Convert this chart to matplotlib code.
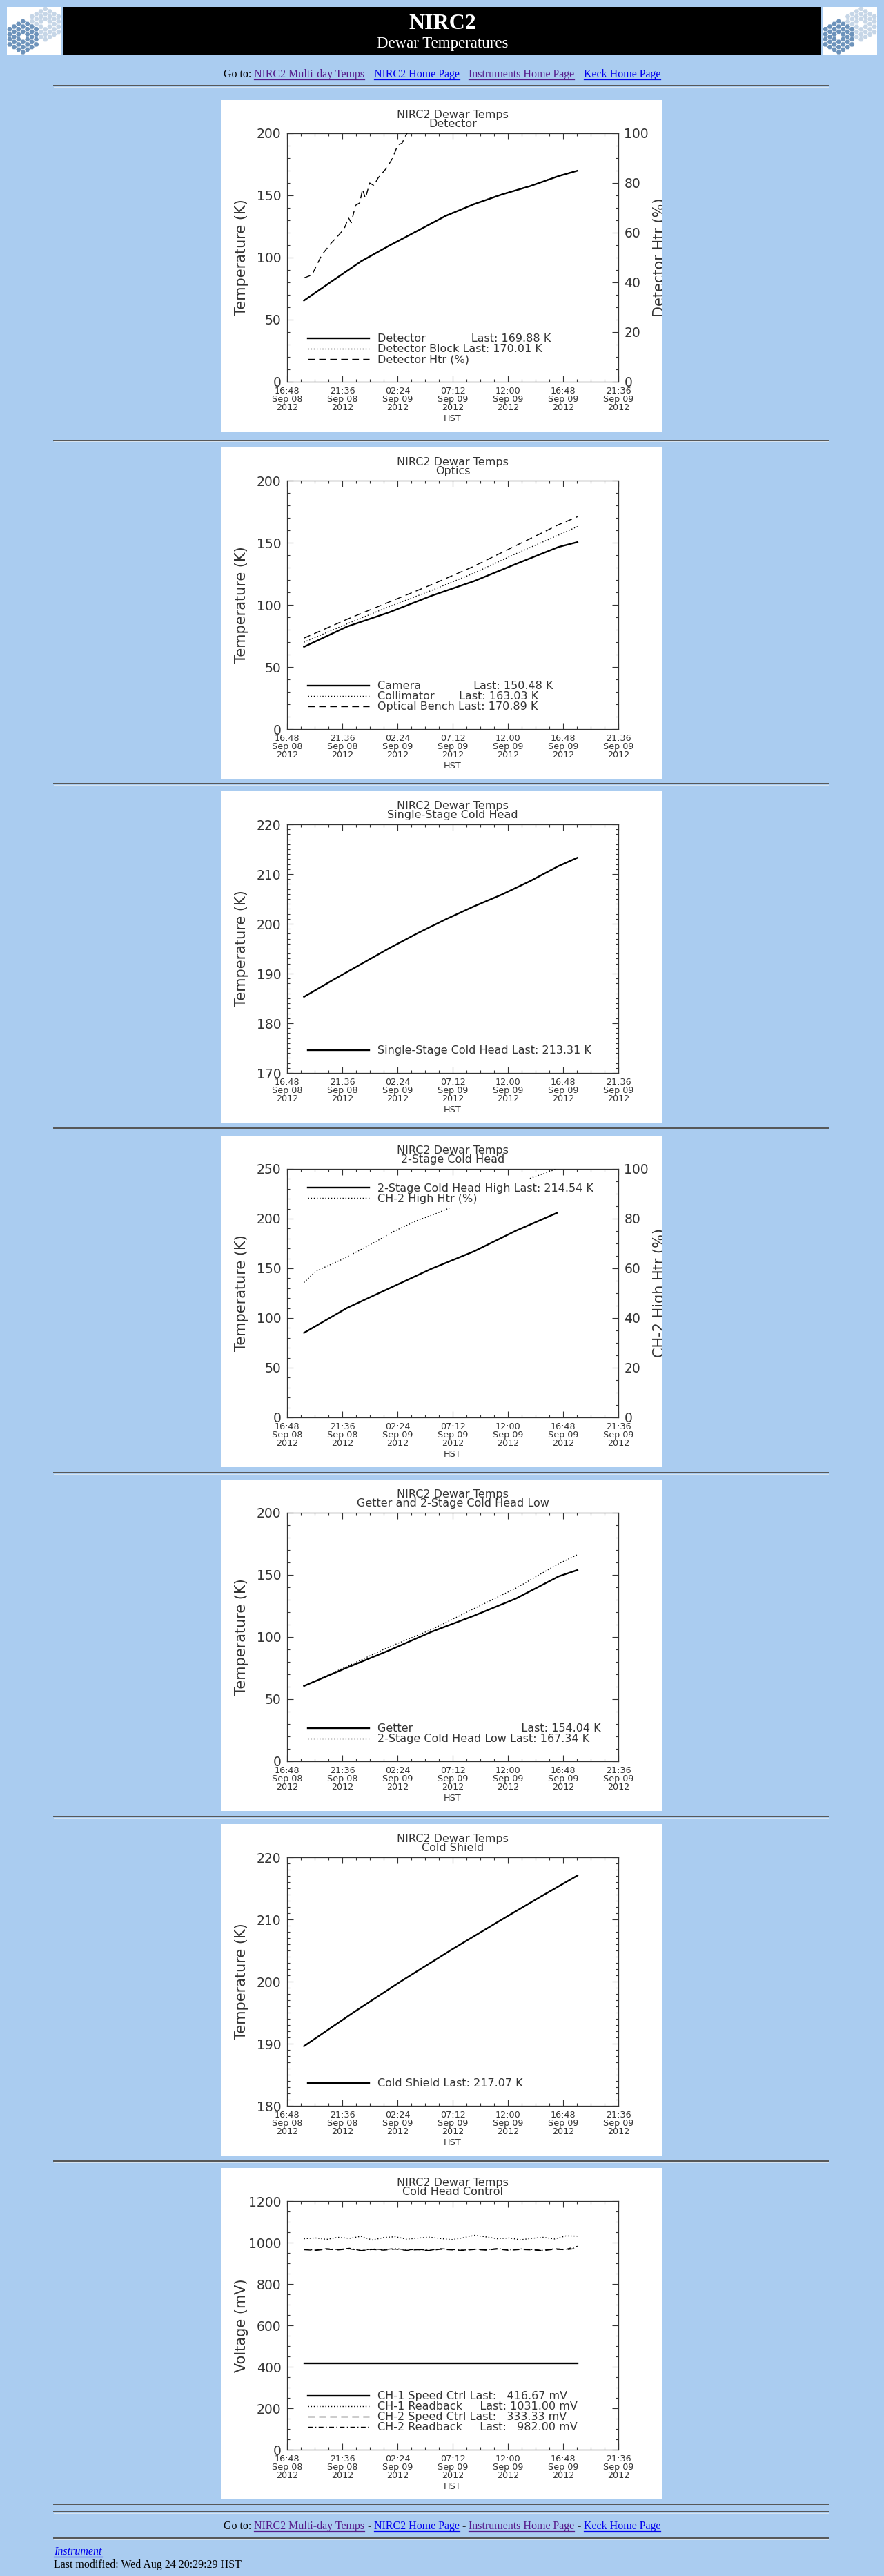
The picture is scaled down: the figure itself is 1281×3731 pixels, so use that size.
import numpy as np
import matplotlib
matplotlib.use('Agg')
import matplotlib.pyplot as plt
from matplotlib.patches import Rectangle, RegularPolygon
from matplotlib.lines import Line2D
from matplotlib.ticker import MultipleLocator, FixedLocator
from matplotlib.transforms import Bbox, TransformedBbox

W, H = 1281, 3731
BG = '#aaccf0'
INK = '#333333'
VISITED = '#551a8b'
LINK = '#0000ee'
FIG = '\u2007'  # figure space, used to pad legend names like IDL does

# x axis = hours after 16:48 HST, Sep 08 2012
x_tick_hours = [0, 4.8, 9.6, 14.4, 19.2, 24.0, 28.8]
x_tick_labels = ['16:48\nSep 08\n2012', '21:36\nSep 08\n2012', '02:24\nSep 09\n2012',
                 '07:12\nSep 09\n2012', '12:00\nSep 09\n2012', '16:48\nSep 09\n2012',
                 '21:36\nSep 09\n2012']

# ---- panel 1 : Detector
det_t = [1.47, 3.99, 6.44, 8.89, 11.34, 13.79, 16.24, 18.69, 21.14, 23.59, 25.25]
detector = [65.4, 81.5, 97.0, 109.6, 121.5, 133.5, 142.9, 150.8, 157.5, 165.5, 169.9]
detector_block = [65.6, 81.7, 97.2, 109.8, 121.7, 133.7, 143.1, 151.0, 157.7, 165.7, 170.0]
htr_t = [1.47, 2.16, 3.01, 3.87, 4.48, 4.97, 5.34, 5.58, 5.95, 6.32, 6.56, 6.81,
         7.18, 7.54, 7.91, 8.65, 9.14, 9.63, 9.99, 10.36, 10.73]
detector_htr = [41.8, 43.0, 51.0, 56.0, 59.0, 61.6, 66.0, 64.0, 71.0, 72.0, 77.5, 73.8,
                80.0, 79.0, 82.0, 86.0, 89.7, 95.3, 96.0, 99.5, 102.0]
det_last = [169.88, 170.01]

# ---- panel 2 : Optics
opt_t = [1.47, 5.22, 8.89, 12.56, 16.24, 19.91, 23.59, 25.25]
camera = [66.2, 82.5, 94.0, 107.3, 119.0, 132.9, 146.5, 150.5]
collimator = [69.9, 84.7, 98.6, 111.6, 125.5, 141.2, 156.1, 163.0]
optical_bench = [73.2, 88.4, 102.3, 116.2, 131.0, 147.7, 164.4, 170.9]
opt_last = [150.48, 163.03, 170.89]

# ---- panel 3 : Single-Stage Cold Head
ss_t = [1.47, 3.99, 6.44, 8.89, 11.34, 13.79, 16.24, 18.69, 21.14, 23.59, 25.25]
single_stage = [185.3, 188.7, 191.9, 195.1, 198.1, 200.9, 203.5, 205.9, 208.6, 211.6, 213.3]
ss_last = 213.31

# ---- panel 4 : 2-Stage Cold Head
ch2_t = [1.47, 5.22, 8.89, 12.56, 16.24, 19.91, 23.46]
ch2_high = [85.1, 110.2, 129.9, 149.6, 167.0, 187.9, 205.7]
ch2_htr_t = [1.47, 2.52, 4.97, 7.42, 9.38, 11.34, 13.05, 16.24, 18.69, 20.52, 21.87, 23.46]
ch2_htr = [54.3, 58.9, 64.0, 70.0, 75.1, 79.3, 82.2, 88.5, 92.6, 95.2, 97.4, 100.0]
ch2_last = 214.54

# ---- panel 5 : Getter and 2-Stage Cold Head Low
get_t = [1.47, 5.22, 8.89, 12.56, 16.24, 19.91, 23.59, 25.25]
getter = [60.6, 75.4, 89.3, 104.2, 117.1, 131.0, 148.7, 153.9]
ch2_low = [60.6, 76.4, 92.1, 106.0, 122.8, 139.4, 158.9, 166.3]
get_last = [154.04, 167.34]

# ---- panel 6 : Cold Shield
cs_t = [1.47, 1.79, 5.83, 9.87, 14.28, 18.69, 21.99, 25.25]
cold_shield = [189.6, 190.0, 195.1, 200.0, 205.1, 210.0, 213.6, 217.07]
cs_last = 217.07

# ---- panel 7 : Cold Head Control
ctl_t = [1.47, 2.46, 3.45, 4.44, 5.43, 6.42, 7.41, 8.40, 9.39, 10.38, 11.37, 12.36, 13.35,
         14.34, 15.33, 16.32, 17.31, 18.30, 19.29, 20.28, 21.27, 22.26, 23.25, 24.24, 25.25]
ch1_speed = [416.67] * 25
ch1_readback = [1018, 1022, 1015, 1025, 1020, 1030, 1012, 1024, 1028, 1016, 1021, 1026, 1019,
                1014, 1023, 1035, 1027, 1018, 1022, 1013, 1020, 1025, 1017, 1032, 1031]
ch2_speed = [965, 962, 967, 964, 969, 961, 966, 963, 968, 962, 965, 961, 967, 964, 962,
             966, 963, 968, 962, 966, 964, 961, 967, 965, 972]
ch2_readback = [968, 963, 970, 966, 972, 961, 969, 965, 971, 964, 967, 962, 970, 966, 963,
                968, 965, 971, 964, 969, 966, 962, 970, 967, 982]
ctl_last = [416.67, 1031.00, 333.33, 982.00]

panel_tops = [145, 648, 1146, 1645, 2143, 2642, 3140]
hr_rows = [124, 638, 1135, 1634, 2133, 2631, 3130, 3627, 3638, 3676]

SOLID = dict(color='black', lw=1.7, ls='-')
DOT = dict(color='black', lw=1.0, ls=(0, (1, 2)))
DASH = dict(color='black', lw=1.0, ls=(0, (7, 4.5)))
DASHDOT = dict(color='black', lw=1.0, ls=(0, (5, 2.5, 1, 2.5)))

fig = plt.figure(figsize=(W / 100, H / 100), dpi=100, facecolor=BG)


def frac(x, y, w, h):
    # page pixels, origin top-left -> figure fraction rect
    return [x / W, 1 - (y + h) / H, w / W, h / H]


def pad(name, n):
    return name + FIG * (n - len(name))


def panel(top, subtitle, ylim, major, minor, ylabel):
    fig.add_artist(Rectangle((320 / W, 1 - (top + 480) / H), 640 / W, 480 / H,
                             transform=fig.transFigure, fc='white', ec='none', zorder=-1))
    ax = fig.add_axes(frac(416, top + 48, 480, 360))
    ax.set_xlim(0, 28.8)
    ax.set_ylim(*ylim)
    ax.xaxis.set_major_locator(FixedLocator(x_tick_hours))
    ax.set_xticklabels(x_tick_labels, linespacing=0.92)
    ax.xaxis.set_minor_locator(MultipleLocator(1.2))
    ax.yaxis.set_major_locator(MultipleLocator(major))
    ax.yaxis.set_minor_locator(MultipleLocator(minor))
    ax.tick_params(which='both', direction='in', top=True, right=True, color=INK, width=0.8)
    ax.tick_params(which='major', length=6.5)
    ax.tick_params(which='minor', length=3.2)
    ax.tick_params(axis='x', labelsize=9.2, labelcolor=INK, pad=5)
    ax.tick_params(axis='y', labelsize=13.5, labelcolor=INK, pad=6)
    for sp in ax.spines.values():
        sp.set_color(INK)
        sp.set_linewidth(0.9)
    ax.set_title('NIRC2 Dewar Temps\n' + subtitle, fontsize=11.5, color=INK,
                 linespacing=0.85, pad=6.5)
    ax.set_xlabel('HST', fontsize=9.2, color=INK, labelpad=2)
    ax.set_ylabel(ylabel, fontsize=15, color=INK)
    ax.yaxis.set_label_coords(-66 / 480, 0.5)
    ax.yaxis.label.set_va('center')
    return ax


def twin(ax, top, ylabel):
    ax.tick_params(which='both', right=False)
    ax2 = ax.twinx()
    ax2.set_ylim(0, 100)
    ax2.yaxis.set_major_locator(MultipleLocator(20))
    ax2.yaxis.set_minor_locator(MultipleLocator(5))
    ax2.tick_params(which='both', direction='in', color=INK, width=0.8)
    ax2.tick_params(which='major', length=6.5)
    ax2.tick_params(which='minor', length=3.2)
    ax2.tick_params(axis='y', labelsize=13.5, labelcolor=INK, pad=6)
    for sp in ax2.spines.values():
        sp.set_visible(False)
    ax2.set_ylabel(ylabel, fontsize=15, color=INK)
    ax2.yaxis.set_label_coords(1 + 60 / 480, 0.5)
    lab = ax2.yaxis.label
    lab.set_va('center')
    box = TransformedBbox(Bbox([[320 / W, 1 - (top + 480) / H], [960 / W, 1 - top / H]]),
                          fig.transFigure)
    lab.set_clip_box(box)
    lab.set_clip_on(True)
    return ax2


def legend(owner, handles, labels, upper=False):
    if upper:
        kw = dict(loc='upper left', bbox_to_anchor=(0.049, 0.960))
    else:
        kw = dict(loc='lower left', bbox_to_anchor=(0.049, 0.051))
    leg = owner.legend(handles, labels, fontsize=11.5, handlelength=5.6, handletextpad=0.75,
                       labelspacing=0.0, borderpad=0.4, borderaxespad=0, frameon=True,
                       fancybox=False, facecolor='white', edgecolor='none', framealpha=1, **kw)
    for t in leg.get_texts():
        t.set_color(INK)
    leg.set_zorder(10)


# ================= header
for x0 in (10, 1192):
    fig.add_artist(Rectangle((x0 / W, 1 - 79 / H), 79 / W, 69 / H, transform=fig.transFigure,
                             fc='white', ec='none', zorder=-1))
    ic = fig.add_axes(frac(x0, 10, 79, 69))
    ic.set_xlim(0, 79)
    ic.set_ylim(69, 0)
    ic.set_axis_off()
    for cx, cy, col in ((55.7, 25.0, '#c6d6e7'), (23.3, 43.3, '#6d93bb')):
        R = 4.27
        for q in range(-3, 4):
            for r in range(-3, 4):
                d = max(abs(q), abs(r), abs(q + r))
                if d == 0 or d > 3:
                    continue
                ic.add_patch(RegularPolygon((cx + 1.5 * R * q, cy + np.sqrt(3) * R * (r + q / 2)),
                                            6, radius=R * 0.86, orientation=np.pi / 6,
                                            fc=col, ec='none'))

fig.add_artist(Rectangle((91 / W, 1 - 79 / H), 1099 / W, 69 / H, transform=fig.transFigure,
                         fc='black', ec='none', zorder=-1))
fig.text(641 / W, 1 - 42 / H, 'NIRC2', fontsize=23, weight='bold', family='Liberation Serif',
         color='white', ha='center', va='baseline')
fig.text(641 / W, 1 - 69 / H, 'Dewar Temperatures', fontsize=16.5, family='Liberation Serif',
         color='white', ha='center', va='baseline')

for y in hr_rows:
    fig.add_artist(Line2D([78 / W, 1201 / W], [1 - y / H, 1 - y / H], transform=fig.transFigure,
                          color='#555555', lw=1.4))
    fig.add_artist(Line2D([78 / W, 1201 / W], [1 - (y + 1.5) / H, 1 - (y + 1.5) / H],
                          transform=fig.transFigure, color='#d8e4f0', lw=0.7))

renderer = fig.canvas.get_renderer()


def html_line(pieces, y_base, x_left=None, size=11.5, style='normal'):
    probe1 = fig.text(0, 0, 'a a', fontsize=size, family='Liberation Serif')
    probe2 = fig.text(0, 0, 'aa', fontsize=size, family='Liberation Serif')
    space = probe1.get_window_extent(renderer).width - probe2.get_window_extent(renderer).width
    probe1.remove()
    probe2.remove()
    texts = []
    for p in pieces:
        if p is None:
            texts.append(None)
            continue
        s, col, ul = p
        t = fig.text(0, 1 - y_base / H, s, fontsize=size, family='Liberation Serif', color=col,
                     style=style, va='baseline', ha='left')
        texts.append((t, col, ul))
    widths = [space if t is None else t[0].get_window_extent(renderer).width for t in texts]
    x = (W - sum(widths)) / 2 if x_left is None else x_left
    for t, w in zip(texts, widths):
        if t is not None:
            t[0].set_x(x / W)
            if t[2]:
                fig.add_artist(Line2D([x / W, (x + w) / W], [1 - (y_base + 2.5) / H] * 2,
                                      transform=fig.transFigure, color=t[1], lw=0.9))
        x += w


goto = [('Go to:', 'black', False), None, ('NIRC2 Multi-day Temps', VISITED, True), None,
        ('-', 'black', False), None, ('NIRC2 Home Page', LINK, True), None,
        ('-', 'black', False), None, ('Instruments Home Page', VISITED, True), None,
        ('-', 'black', False), None, ('Keck Home Page', LINK, True)]
html_line(goto, 112)
html_line(goto, 3663)
html_line([('Instrument', LINK, True)], 3700, x_left=78, style='italic')
html_line([('Last modified: Wed Aug 24 20:29:29 HST', 'black', False)], 3719, x_left=78)

# ================= panel 1
ax = panel(panel_tops[0], 'Detector', (0, 200), 50, 10, 'Temperature (K)')
h1, = ax.plot(det_t, detector, **SOLID)
h2, = ax.plot(det_t, detector_block, **DOT)
ax2 = twin(ax, panel_tops[0], 'Detector Htr (%)')
h3, = ax2.plot(htr_t, detector_htr, **DASH)
legend(ax2, [h1, h2, h3],
       [pad('Detector', 14) + ' Last: %.2f K' % det_last[0],
        pad('Detector Block', 14) + ' Last: %.2f K' % det_last[1],
        'Detector Htr (%)'])

# ================= panel 2
ax = panel(panel_tops[1], 'Optics', (0, 200), 50, 10, 'Temperature (K)')
h1, = ax.plot(opt_t, camera, **SOLID)
h2, = ax.plot(opt_t, collimator, **DOT)
h3, = ax.plot(opt_t, optical_bench, **DASH)
names = ['Camera', 'Collimator', 'Optical Bench']
legend(ax, [h1, h2, h3], [pad(n, 13) + ' Last: %.2f K' % v for n, v in zip(names, opt_last)])

# ================= panel 3
ax = panel(panel_tops[2], 'Single-Stage Cold Head', (170, 220), 10, 1, 'Temperature (K)')
h1, = ax.plot(ss_t, single_stage, **SOLID)
legend(ax, [h1], ['Single-Stage Cold Head Last: %.2f K' % ss_last])

# ================= panel 4
ax = panel(panel_tops[3], '2-Stage Cold Head', (0, 250), 50, 10, 'Temperature (K)')
h1, = ax.plot(ch2_t, ch2_high, **SOLID)
ax2 = twin(ax, panel_tops[3], 'CH-2 High Htr (%)')
h2, = ax2.plot(ch2_htr_t, ch2_htr, **DOT)
legend(ax2, [h1, h2], ['2-Stage Cold Head High Last: %.2f K' % ch2_last, 'CH-2 High Htr (%)'],
       upper=True)

# ================= panel 5
ax = panel(panel_tops[4], 'Getter and 2-Stage Cold Head Low', (0, 200), 50, 10, 'Temperature (K)')
h1, = ax.plot(get_t, getter, **SOLID)
h2, = ax.plot(get_t, ch2_low, **DOT)
names = ['Getter', '2-Stage Cold Head Low']
legend(ax, [h1, h2], [pad(n, 21) + ' Last: %.2f K' % v for n, v in zip(names, get_last)])

# ================= panel 6
ax = panel(panel_tops[5], 'Cold Shield', (180, 220), 10, 1, 'Temperature (K)')
h1, = ax.plot(cs_t, cold_shield, **SOLID)
legend(ax, [h1], ['Cold Shield Last: %.2f K' % cs_last])

# ================= panel 7
ax = panel(panel_tops[6], 'Cold Head Control', (0, 1200), 200, 50, 'Voltage (mV)')
h1, = ax.plot(ctl_t, ch1_speed, **SOLID)
h2, = ax.plot(ctl_t, ch1_readback, **DOT)
h3, = ax.plot(ctl_t, ch2_speed, **DASH)
h4, = ax.plot(ctl_t, ch2_readback, **DASHDOT)
names = ['CH-1 Speed Ctrl', 'CH-1 Readback', 'CH-2 Speed Ctrl', 'CH-2 Readback']
legend(ax, [h1, h2, h3, h4],
       [pad(n, 15) + ' Last: ' + ('%7.2f' % v).replace(' ', FIG) + ' mV'
        for n, v in zip(names, ctl_last)])

fig.savefig('out.png', dpi=100, facecolor=BG)
